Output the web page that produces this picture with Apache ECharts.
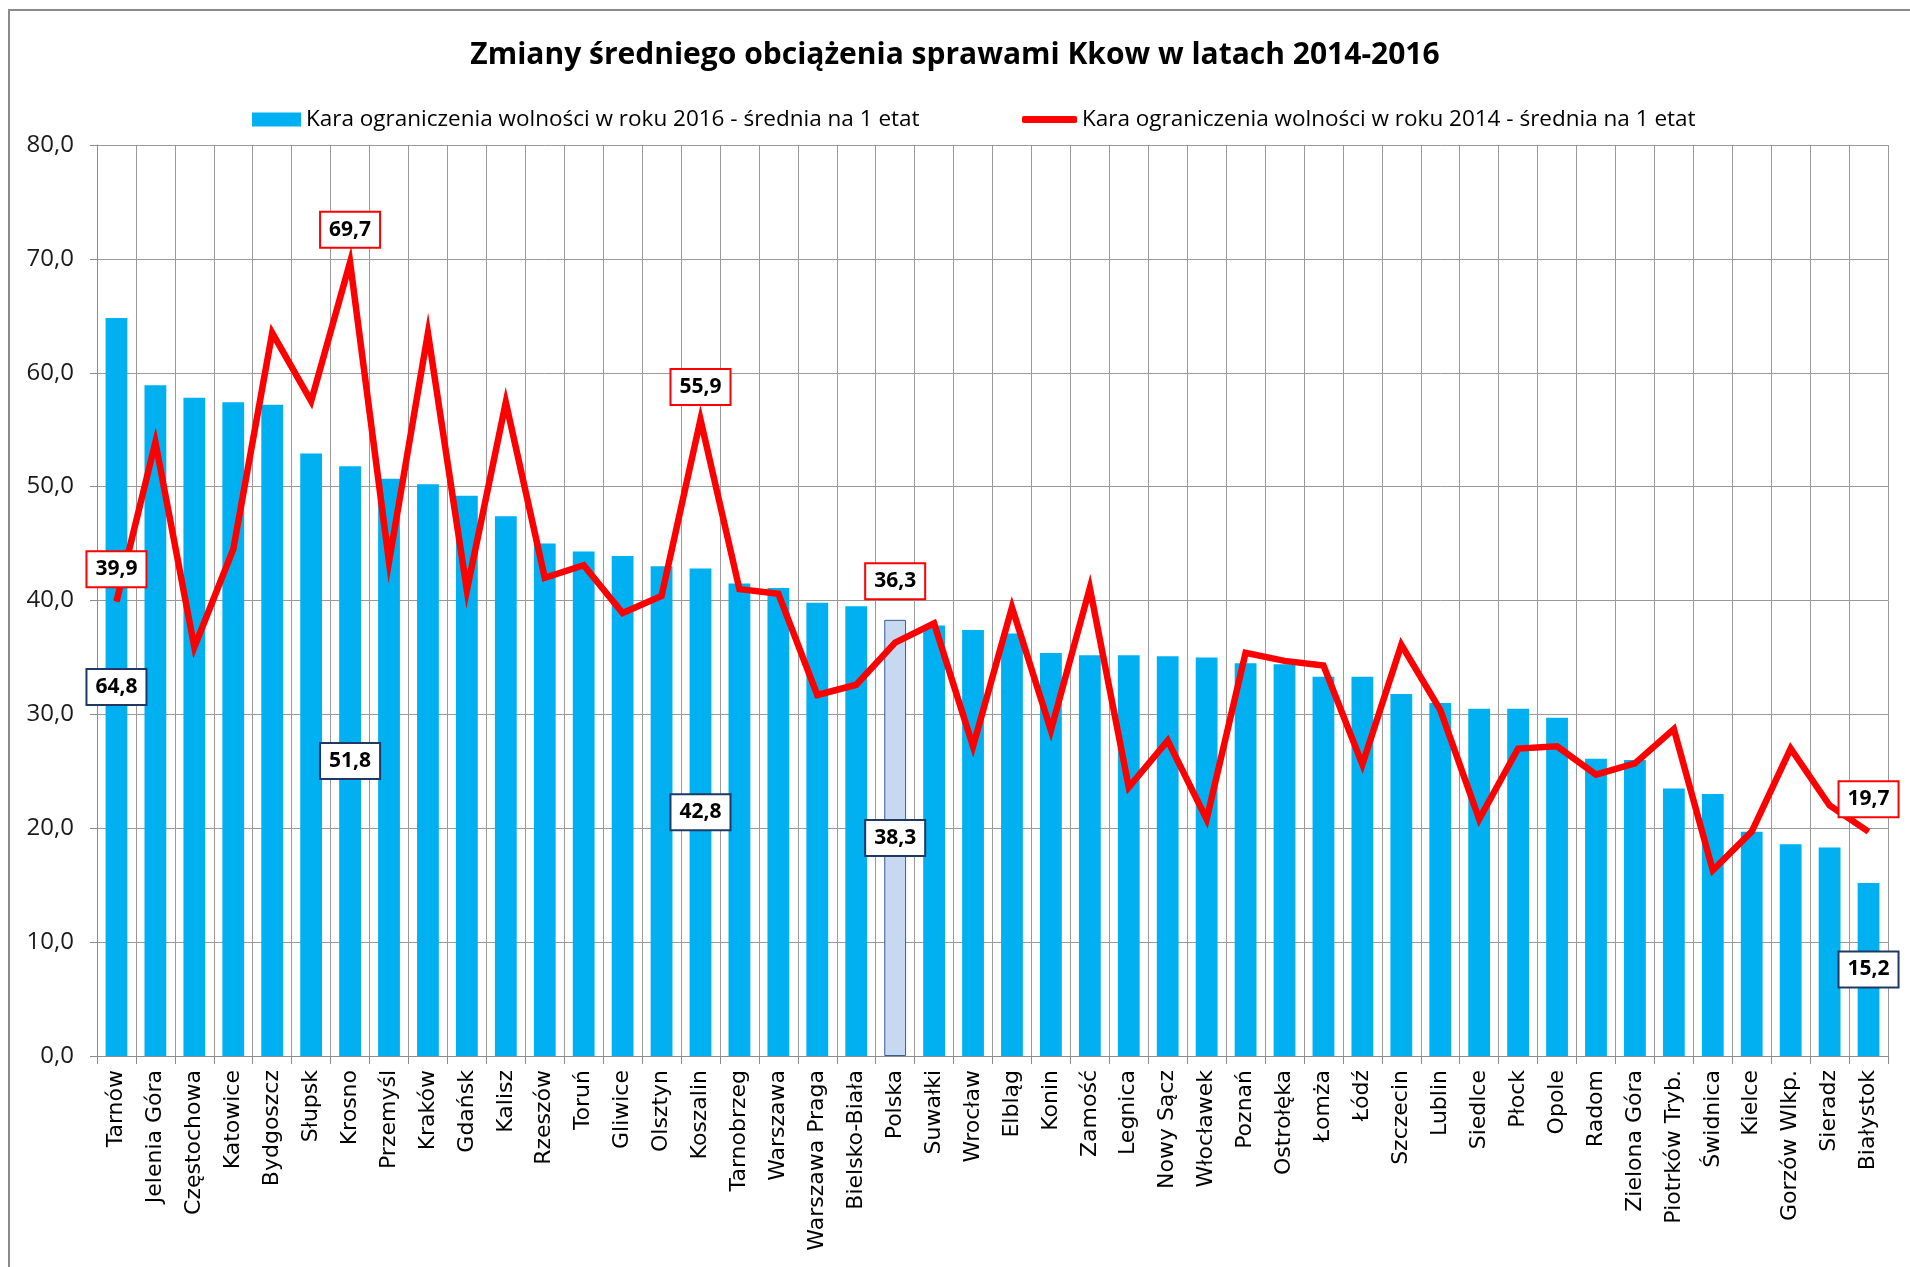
<!DOCTYPE html>
<html>
<head>
<meta charset="utf-8">
<script src="https://cdn.jsdelivr.net/npm/echarts@6/dist/echarts.min.js"></script>
<style>
  html, body { margin: 0; padding: 0; background: #fff; }
  #chart { width: 1910px; height: 1267px; }
</style>
</head>
<body>
<div id="chart"></div>
<script>
const categories = [
  'Tarnów', 'Jelenia Góra', 'Częstochowa', 'Katowice', 'Bydgoszcz', 'Słupsk', 'Krosno',
  'Przemyśl', 'Kraków', 'Gdańsk', 'Kalisz', 'Rzeszów', 'Toruń', 'Gliwice', 'Olsztyn',
  'Koszalin', 'Tarnobrzeg', 'Warszawa', 'Warszawa Praga', 'Bielsko-Biała', 'Polska',
  'Suwałki', 'Wrocław', 'Elbląg', 'Konin', 'Zamość', 'Legnica', 'Nowy Sącz', 'Włocławek',
  'Poznań', 'Ostrołęka', 'Łomża', 'Łódź', 'Szczecin', 'Lublin', 'Siedlce', 'Płock',
  'Opole', 'Radom', 'Zielona Góra', 'Piotrków Tryb.', 'Świdnica', 'Kielce',
  'Gorzów Wlkp.', 'Sieradz', 'Białystok'
];

// 2016 - bars
const values2016 = [
  64.8, 58.9, 57.8, 57.4, 57.2, 52.9, 51.8, 50.7, 50.2, 49.2, 47.4, 45.0, 44.3, 43.9, 43.0,
  42.8, 41.5, 41.1, 39.8, 39.5, 38.3, 37.8, 37.4, 37.1, 35.4, 35.2, 35.2, 35.1, 35.0,
  34.5, 34.4, 33.3, 33.3, 31.8, 31.0, 30.5, 30.5, 29.7, 26.1, 26.0, 23.5, 23.0, 19.7,
  18.6, 18.3, 15.2
];

// 2014 - line
const values2014 = [
  39.9, 53.9, 35.9, 44.5, 63.5, 57.5, 69.7, 43.4, 63.5, 40.9, 57.4, 42.0, 43.1, 38.9, 40.4,
  55.9, 41.0, 40.6, 31.7, 32.6, 36.3, 38.0, 27.2, 39.4, 28.6, 41.1, 23.6, 27.7, 20.8,
  35.4, 34.7, 34.3, 25.6, 36.1, 30.4, 20.8, 27.0, 27.2, 24.7, 25.7, 28.7, 16.3, 19.7,
  27.0, 22.0, 19.7
];

const yTicks = { min: 0, max: 80, interval: 10 };
const labelled = ['Tarnów', 'Krosno', 'Koszalin', 'Polska', 'Białystok'];
const highlight = 'Polska';

const name2016 = 'Kara ograniczenia wolności w roku 2016 - średnia na 1 etat';
const name2014 = 'Kara ograniczenia wolności w roku 2014 - średnia na 1 etat';

const fmt = v => v.toFixed(1).replace('.', ',');
const UI_FONT = '"Open Sans", sans-serif';

const boxLabel = border => ({
  show: true,
  formatter: p => fmt(p.value),
  backgroundColor: '#fff',
  borderColor: border,
  borderWidth: 2,
  padding: [5, 8],
  color: '#000',
  fontFamily: UI_FONT,
  fontWeight: 'bold',
  fontSize: 21,
  lineHeight: 24
});

const barData = values2016.map((v, i) => {
  const c = categories[i];
  const d = { value: v };
  if (c === highlight) {
    d.itemStyle = { color: '#C6D9F1', borderColor: '#385D8A', borderWidth: 1 };
  }
  if (labelled.includes(c)) {
    d.label = boxLabel('#1F3864');
  }
  return d;
});

const lineData = values2014.map((v, i) => {
  const c = categories[i];
  const d = { value: v };
  if (labelled.includes(c)) {
    d.label = Object.assign(boxLabel('#FF0000'), {
      position: 'top',
      distance: 15,
      offset: c === highlight ? [0, -29] : [0, 0]
    });
  }
  return d;
});

const chart = echarts.init(document.getElementById('chart'));

chart.setOption({
  animation: false,
  backgroundColor: '#fff',
  title: {
    text: 'Zmiany średniego obciążenia sprawami Kkow w latach 2014-2016',
    left: 'center',
    top: 35,
    textStyle: { fontFamily: UI_FONT, fontWeight: 'bold', fontSize: 30, color: '#000' }
  },
  legend: [
    {
      data: [name2016],
      left: 247,
      top: 103,
      itemWidth: 49,
      itemHeight: 14,
      itemGap: 6,
      icon: 'rect',
      textStyle: { fontFamily: UI_FONT, fontSize: 22.5, color: '#000' }
    },
    {
      data: [{ name: name2014, icon: 'roundRect' }],
      left: 1017,
      top: 103,
      itemWidth: 55,
      itemHeight: 7,
      textStyle: { fontFamily: UI_FONT, fontSize: 22.5, color: '#000' }
    }
  ],
  grid: { left: 97, right: 22, top: 145, bottom: 211 },
  xAxis: {
    type: 'category',
    data: categories,
    boundaryGap: true,
    axisLine: { lineStyle: { color: '#8c8c8c', width: 1 } },
    axisTick: { show: true, interval: 0, length: 8, lineStyle: { color: '#8c8c8c' } },
    splitLine: { show: true, interval: 0, lineStyle: { color: '#9a9a9a', width: 1 } },
    axisLabel: {
      interval: 0,
      rotate: 90,
      margin: 14,
      fontFamily: '"DejaVu Sans", sans-serif',
      fontSize: 22,
      color: '#000'
    }
  },
  yAxis: {
    type: 'value',
    min: yTicks.min,
    max: yTicks.max,
    interval: yTicks.interval,
    axisLine: { show: true, lineStyle: { color: '#8c8c8c' } },
    axisTick: { show: true, length: 7, lineStyle: { color: '#8c8c8c' } },
    splitLine: { lineStyle: { color: '#9a9a9a', width: 1 } },
    axisLabel: {
      margin: 23,
      formatter: v => fmt(v),
      fontFamily: UI_FONT,
      fontSize: 24,
      color: '#1a1a1a'
    }
  },
  graphic: [
    {
      type: 'rect',
      shape: { x: 9, y: 10, width: 2000, height: 2000 },
      style: { fill: 'none', stroke: '#8a8a8a', lineWidth: 2 },
      silent: true
    }
  ],
  series: [
    {
      name: name2016,
      type: 'bar',
      data: barData,
      barWidth: '56%',
      itemStyle: { color: '#00B0F0' },
      z: 2
    },
    {
      name: name2014,
      type: 'line',
      data: lineData,
      symbol: 'circle',
      symbolSize: 1,
      showSymbol: true,
      itemStyle: { color: '#FF0000' },
      lineStyle: { color: '#FF0000', width: 6.5, join: 'miter' },
      z: 3
    }
  ]
});

window.addEventListener('resize', () => chart.resize());
</script>
</body>
</html>
